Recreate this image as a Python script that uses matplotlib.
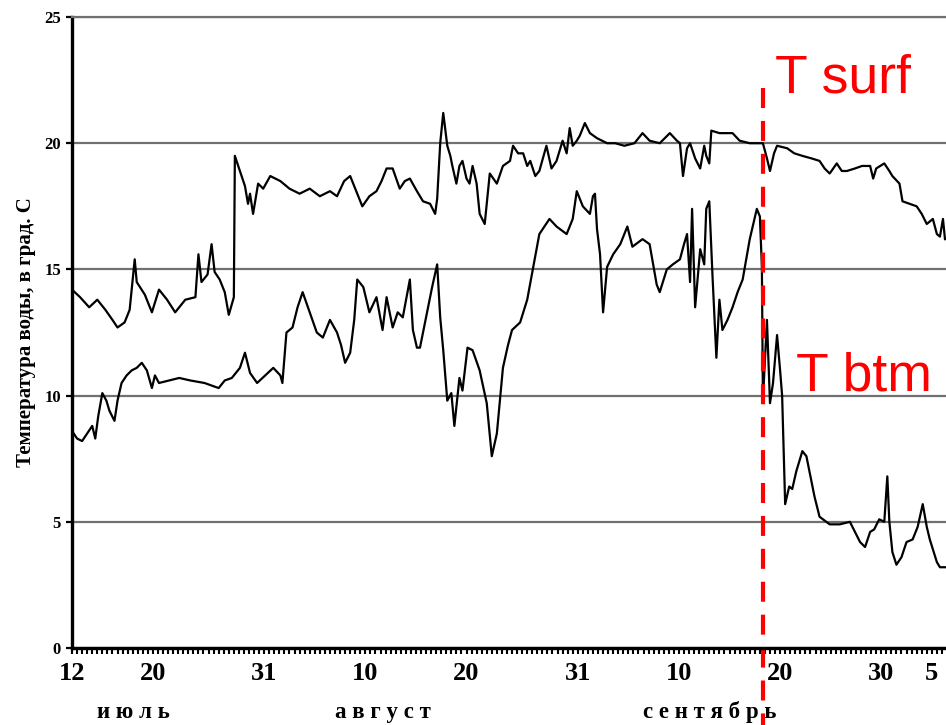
import numpy as np
import matplotlib
matplotlib.use("Agg")
import matplotlib.pyplot as plt
from matplotlib.ticker import MultipleLocator, FixedLocator

# Water temperature record, days counted from 12 July
surfDays = [0.0, 0.8, 1.7, 2.5, 3.3, 4.0, 4.5, 5.2, 5.7, 6.2, 6.4, 7.2, 7.9, 8.6, 9.4,
            10.2, 11.2, 12.2, 12.5, 12.8, 13.4, 13.8, 14.1, 14.6, 15.1, 15.5, 16.0, 16.1,
            16.6, 17.1, 17.4, 17.6, 17.9, 18.4, 18.9, 19.6, 20.6, 21.5, 22.5, 23.5, 24.5,
            25.5, 26.2, 26.9, 27.5, 28.1, 28.7, 29.4, 30.1, 30.6, 31.1, 31.7, 32.4, 32.9,
            33.4, 34.1, 34.7, 35.4, 35.9, 36.1, 36.4, 36.7, 37.1, 37.4, 37.6, 38.0, 38.3,
            38.6, 39.0, 39.3, 39.6, 40.0, 40.3, 40.8, 41.3, 42.0, 42.6, 43.3, 43.6, 44.1,
            44.6, 45.0, 45.3, 45.8, 46.2, 46.9, 47.4, 47.9, 48.5, 48.9, 49.2, 49.5, 49.9,
            50.2, 50.7, 51.2, 51.9, 52.9, 53.7, 54.6, 55.6, 56.4, 57.1, 58.1, 59.1, 59.8,
            60.1, 60.4, 60.8, 61.1, 61.6, 62.1, 62.5, 62.7, 63.0, 63.2, 64.0, 65.3, 66.0,
            67.0, 68.3, 68.7, 69.0, 69.4, 69.7, 70.7, 71.4, 72.2, 73.1, 73.9, 74.4, 74.9,
            75.6, 76.1, 76.6, 77.4, 78.1, 78.9, 79.2, 79.5, 80.3, 80.8, 81.1, 81.8, 82.1,
            82.8, 83.5, 84.0, 84.5, 85.1, 85.5, 85.8, 86.1, 86.3]
surfTemp = [14.2, 13.9, 13.5, 13.8, 13.4, 13.0, 12.7, 12.9, 13.4, 15.4, 14.5, 14.0, 13.3,
            14.2, 13.8, 13.3, 13.8, 13.9, 15.6, 14.5, 14.8, 16.0, 14.9, 14.6, 14.1, 13.2,
            13.9, 19.5, 18.9, 18.3, 17.6, 18.0, 17.2, 18.4, 18.2, 18.7, 18.5, 18.2, 18.0,
            18.2, 17.9, 18.1, 17.9, 18.5, 18.7, 18.1, 17.5, 17.9, 18.1, 18.5, 19.0, 19.0,
            18.2, 18.5, 18.6, 18.1, 17.7, 17.6, 17.2, 17.8, 20.0, 21.2, 19.9, 19.5, 19.1,
            18.4, 19.1, 19.3, 18.6, 18.4, 19.1, 18.4, 17.2, 16.8, 18.8, 18.4, 19.1, 19.3,
            19.9, 19.6, 19.6, 19.1, 19.3, 18.7, 18.9, 19.9, 19.0, 19.3, 20.1, 19.6, 20.6,
            19.9, 20.1, 20.3, 20.8, 20.4, 20.2, 20.0, 20.0, 19.9, 20.0, 20.4, 20.1, 20.0,
            20.4, 20.1, 20.0, 18.7, 19.8, 20.0, 19.4, 19.0, 19.9, 19.5, 19.2, 20.5, 20.4,
            20.4, 20.1, 20.0, 20.0, 19.4, 18.9, 19.6, 19.9, 19.8, 19.6, 19.5, 19.4, 19.3,
            19.0, 18.8, 19.2, 18.9, 18.9, 19.0, 19.1, 19.1, 18.6, 19.0, 19.2, 18.9, 18.7,
            18.4, 17.7, 17.6, 17.5, 17.2, 16.8, 17.0, 16.4, 16.3, 17.0, 16.2]

btmDays = [0.0, 0.5, 1.0, 1.5, 2.0, 2.3, 2.6, 3.0, 3.4, 3.7, 4.2, 4.5, 4.9, 5.4, 5.9, 6.4,
           6.9, 7.4, 7.9, 8.2, 8.6, 9.6, 10.6, 11.7, 13.1, 13.8, 14.5, 15.1, 15.8, 16.6,
           17.1, 17.6, 18.3, 19.1, 19.9, 20.6, 20.8, 21.2, 21.8, 22.3, 22.8, 23.5, 24.2,
           24.8, 25.5, 26.2, 26.6, 27.0, 27.5, 27.9, 28.2, 28.8, 29.4, 30.1, 30.7, 31.1,
           31.7, 32.2, 32.7, 33.4, 33.7, 34.1, 34.4, 35.1, 35.6, 36.1, 36.4, 36.7, 37.1,
           37.5, 37.8, 38.3, 38.6, 39.1, 39.6, 40.3, 41.0, 41.5, 42.0, 42.6, 43.1, 43.5,
           44.3, 45.0, 45.6, 46.2, 47.2, 47.9, 48.9, 49.5, 49.9, 50.5, 51.2, 51.5, 51.7,
           51.9, 52.2, 52.5, 52.9, 53.5, 54.2, 54.9, 55.4, 56.4, 57.1, 57.8, 58.1, 58.8,
           59.4, 60.1, 60.5, 60.8, 61.1, 61.3, 61.6, 62.1, 62.5, 62.7, 63.0, 63.3, 63.7,
           64.0, 64.3, 64.8, 65.3, 65.8, 66.3, 67.0, 67.7, 68.0, 68.2, 68.3, 68.7, 69.0,
           69.3, 69.7, 70.0, 70.2, 70.5, 70.9, 71.2, 71.6, 72.2, 72.6, 72.9, 73.4, 73.9,
           74.9, 75.9, 76.9, 77.4, 77.9, 78.4, 78.9, 79.3, 79.8, 80.3, 80.6, 80.8, 81.1,
           81.5, 82.0, 82.5, 83.1, 83.6, 84.1, 84.5, 84.8, 85.5, 85.8, 86.3]
btmTemp = [8.6, 8.3, 8.2, 8.5, 8.8, 8.3, 9.2, 10.1, 9.8, 9.4, 9.0, 9.8, 10.5, 10.8, 11.0,
           11.1, 11.3, 11.0, 10.3, 10.8, 10.5, 10.6, 10.7, 10.6, 10.5, 10.4, 10.3, 10.6,
           10.7, 11.1, 11.7, 10.9, 10.5, 10.8, 11.1, 10.8, 10.5, 12.5, 12.7, 13.5, 14.1,
           13.3, 12.5, 12.3, 13.0, 12.5, 12.0, 11.3, 11.7, 13.0, 14.6, 14.3, 13.3, 13.9,
           12.6, 13.9, 12.7, 13.3, 13.1, 14.6, 12.6, 11.9, 11.9, 13.3, 14.3, 15.2, 13.1,
           11.8, 9.8, 10.1, 8.8, 10.7, 10.2, 11.9, 11.8, 11.0, 9.7, 7.6, 8.5, 11.1, 12.0,
           12.6, 12.9, 13.8, 15.1, 16.4, 17.0, 16.7, 16.4, 17.0, 18.1, 17.5, 17.2, 17.9,
           18.0, 16.6, 15.6, 13.3, 15.1, 15.6, 16.0, 16.7, 15.9, 16.2, 16.0, 14.4, 14.1,
           15.0, 15.2, 15.4, 16.0, 16.4, 14.5, 17.4, 13.5, 15.8, 15.2, 17.4, 17.7, 14.9,
           11.5, 13.8, 12.6, 13.0, 13.5, 14.1, 14.6, 16.2, 17.4, 17.1, 15.1, 9.8, 13.0,
           9.7, 10.5, 12.4, 11.0, 10.0, 5.7, 6.4, 6.3, 7.0, 7.8, 7.6, 7.0, 6.0, 5.2, 4.9,
           4.9, 5.0, 4.6, 4.2, 4.0, 4.6, 4.7, 5.1, 5.0, 6.8, 5.0, 3.8, 3.3, 3.6, 4.2, 4.3,
           4.8, 5.7, 4.8, 4.3, 3.4, 3.2, 3.2]

tickDays = [0, 8, 19, 29, 39, 50, 60, 70, 80, 85]
tickLabels = ["12", "20", "31", "10", "20", "31", "10", "20", "30", "5"]
monthNames = ["и ю л ь", "а в г у с т", "с е н т я б р ь"]
monthCentres = [6.1, 30.7, 63.0]
markerDay = 68.3

serifFont = "Liberation Serif"

myFig = plt.figure(figsize=(9.46, 7.25), dpi=100)
ax = myFig.add_axes([0.0761, 0.1062, 0.9239, 0.8703])

ax.plot(surfDays, surfTemp, color="black", lw=1.6)
ax.plot(btmDays, btmTemp, color="black", lw=1.6)

ax.set_xlim(0, 86.4)
ax.set_ylim(0, 25)

# horizontal grid
ax.set_yticks([0, 5, 10, 15, 20, 25])
ax.yaxis.grid(True, color="#707070", lw=1.6)
ax.set_axisbelow(True)

ax.spines["right"].set_visible(False)
ax.spines["top"].set_color("#707070")
ax.spines["top"].set_linewidth(1.6)
ax.spines["left"].set_linewidth(2.4)
ax.spines["bottom"].set_linewidth(2.4)

ax.xaxis.set_major_locator(FixedLocator(tickDays))
ax.xaxis.set_minor_locator(MultipleLocator(0.5))
ax.set_xticklabels(tickLabels, fontfamily=serifFont, fontweight="bold", fontsize=19)
ax.tick_params(axis="x", which="both", direction="out", length=4, width=1.5, pad=6)
ax.tick_params(axis="y", direction="out", length=4, width=1.6, pad=4)
for lbl in ax.get_yticklabels():
    lbl.set_fontfamily(serifFont)
    lbl.set_fontweight("bold")
    lbl.set_fontsize(12)

ax.set_ylabel("Температура воды, в град. С", fontfamily=serifFont,
              fontweight="bold", fontsize=15, labelpad=6)

for name, centre in zip(monthNames, monthCentres):
    ax.text(centre, -2.55, name, ha="center", va="center", fontfamily=serifFont,
            fontweight="bold", fontsize=16.5, clip_on=False)

# red marker line and labels
ax.plot([markerDay, markerDay], [22.2, -3.1], color="red", lw=3,
        linestyle=(0, (4.8, 3.1)), clip_on=False)
ax.text(69.5, 22.0, "T surf", color="red", fontsize=38.5,
        fontfamily="Liberation Sans", va="baseline")
ax.text(71.6, 10.2, "T btm", color="red", fontsize=38.5,
        fontfamily="Liberation Sans", va="baseline")

plt.savefig("out.png", dpi=100)
